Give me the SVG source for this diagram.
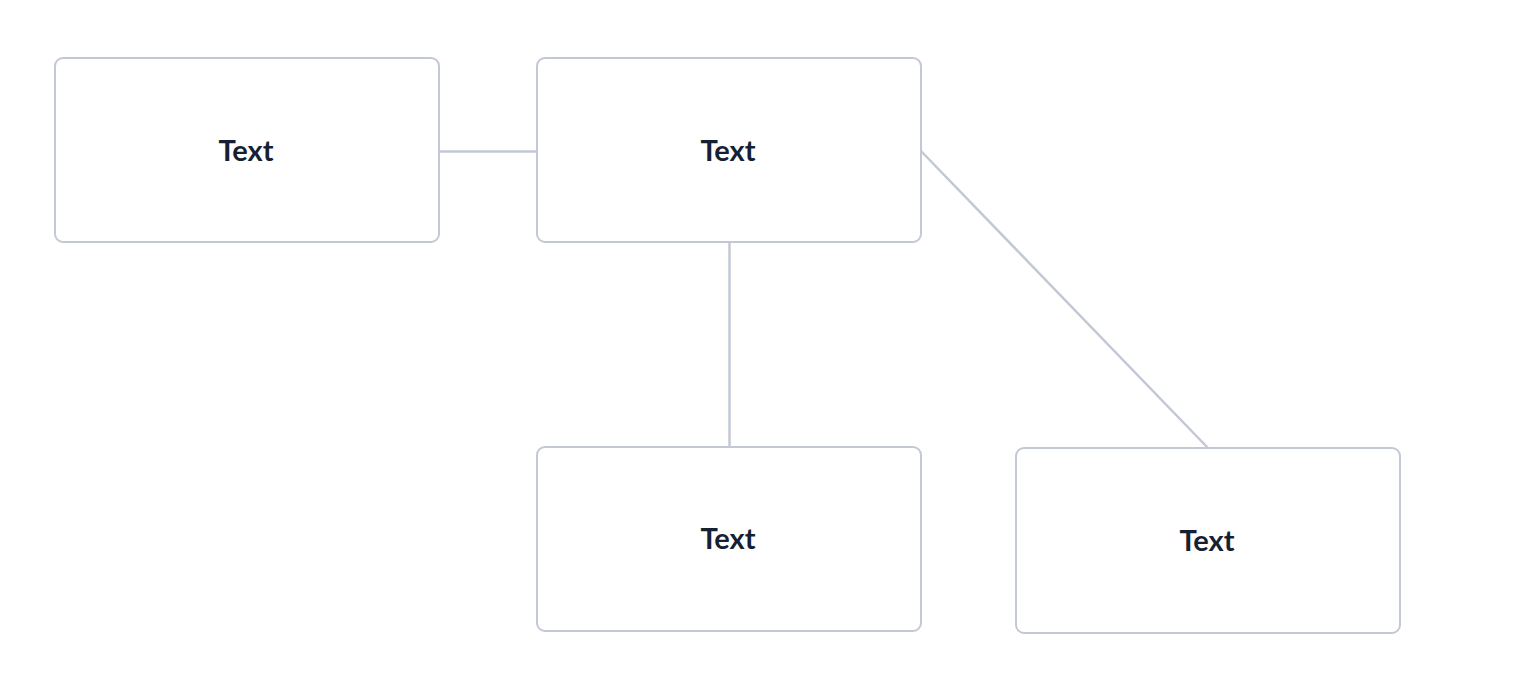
<svg xmlns="http://www.w3.org/2000/svg" width="1514" height="692" viewBox="0 0 1514 692">
<style>
.box{fill:#fff;stroke:#c3c8d5;stroke-width:2}
.lbl{font-family:Lato,"Open Sans",sans-serif;font-weight:bold;font-size:29px;fill:#161f33;text-anchor:middle}
.conn{stroke:#c3c8d5;stroke-width:2.5;fill:none}
</style>
<rect width="1514" height="692" fill="#fff"/>
<g id="connectors">
<line class="conn" x1="439" y1="151.5" x2="537" y2="151.5"/>
<line class="conn" x1="729.5" y1="242" x2="729.5" y2="447"/>
<line class="conn" x1="921" y1="151" x2="1208" y2="448"/>
</g>
<g id="node1"><rect class="box" x="55" y="58" width="384" height="184" rx="8"/><text class="lbl" x="246" y="161">Text</text></g>
<g id="node2"><rect class="box" x="537" y="58" width="384" height="184" rx="8"/><text class="lbl" x="728" y="161">Text</text></g>
<g id="node3"><rect class="box" x="537" y="447" width="384" height="184" rx="8"/><text class="lbl" x="728" y="549">Text</text></g>
<g id="node4"><rect class="box" x="1016" y="448" width="384" height="185" rx="8"/><text class="lbl" x="1207" y="551">Text</text></g>
</svg>
